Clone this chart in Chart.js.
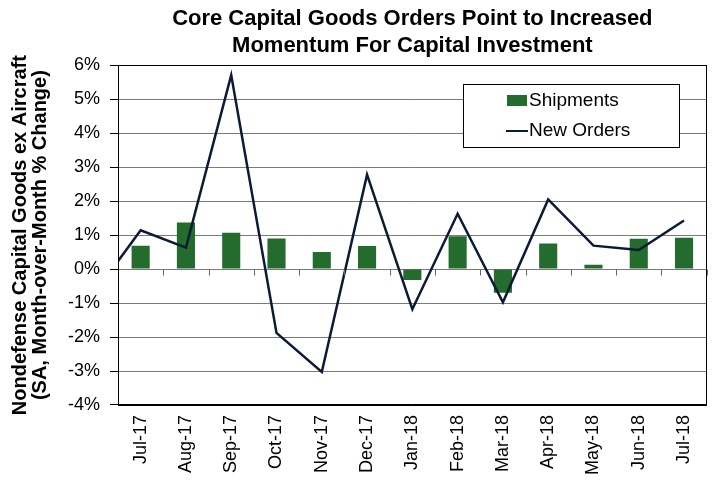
<!DOCTYPE html>
<html>
<head>
<meta charset="utf-8">
<title>Core Capital Goods Orders</title>
<script src="https://cdn.jsdelivr.net/npm/chart.js@4.4.1/dist/chart.umd.min.js"></script>
<style>
  html, body { margin: 0; padding: 0; background: #fff; }
</style>
</head>
<body>
<canvas id="myChart" width="716" height="485"></canvas>
<script>
var months = ['Jul-17', 'Aug-17', 'Sep-17', 'Oct-17', 'Nov-17', 'Dec-17', 'Jan-18',
              'Feb-18', 'Mar-18', 'Apr-18', 'May-18', 'Jun-18', 'Jul-18'];
// month-over-month % change
var shipments = [0.69, 1.37, 1.07, 0.90, 0.50, 0.68, -0.32, 0.97, -0.70, 0.75, 0.13, 0.89, 0.92];
var newOrders = [1.14, 0.63, 5.71, -1.88, -3.03, 2.78, -1.18, 1.63, -0.98, 2.05, 0.69, 0.56, 1.43];
// Jun-17 is off the left edge, only the segment running into Jul-17 shows
var jun17Orders = -0.67;
var yAxisTitle = ['Nondefense Capital Goods ex Aircraft', '(SA, Month-over-Month % Change)'];
var chartTitle = ['Core Capital Goods Orders Point to Increased', 'Momentum For Capital Investment'];

var FONT = "'Liberation Sans', Arial, sans-serif";
Chart.defaults.font.family = FONT;
Chart.defaults.color = '#000';

// x is a linear month index so the Jun-17 point can sit at -1 (clipped)
var shipPoints = shipments.map(function (v, i) { return {x: i, y: v}; });
var orderPoints = [{x: -1, y: jun17Orders}];
newOrders.forEach(function (v, i) {
  orderPoints.push({x: i, y: v});
});

// zero-line tick marks, plot frame and the boxed legend
var frameAndLegend = {
  id: 'frameAndLegend',
  afterDraw: function (chart) {
    var ctx = chart.ctx;
    var a = chart.chartArea;
    var xs = chart.scales.x, ys = chart.scales.y;
    ctx.save();

    var y0 = Math.round(ys.getPixelForValue(0)) + 0.5;
    ctx.strokeStyle = '#666';
    ctx.lineWidth = 1;
    for (var i = 0; i <= months.length; i++) {
      var bx = Math.round(xs.getPixelForValue(i - 0.5)) + 0.5;
      ctx.beginPath();
      ctx.moveTo(bx, y0);
      ctx.lineTo(bx, y0 + 6);
      ctx.stroke();
    }

    ctx.strokeStyle = '#000';
    ctx.strokeRect(Math.round(a.left) + 0.5, Math.round(a.top) + 0.5,
                   Math.round(a.right - a.left) - 1, Math.round(a.bottom - a.top));

    var left = Math.round(a.right) - 244, top = Math.round(a.top) + 19;
    ctx.fillStyle = '#fff';
    ctx.fillRect(left, top, 216, 63);
    ctx.strokeRect(left + 0.5, top + 0.5, 216, 63);
    ctx.font = '19px ' + FONT;
    ctx.textBaseline = 'middle';
    chart.data.datasets.forEach(function (ds, i) {
      var y = top + 17 + i * 30;
      if (ds.type === 'line') {
        ctx.strokeStyle = ds.borderColor;
        ctx.lineWidth = 2;
        ctx.beginPath();
        ctx.moveTo(left + 43, y);
        ctx.lineTo(left + 65, y);
        ctx.stroke();
      } else {
        ctx.fillStyle = ds.backgroundColor;
        ctx.fillRect(left + 44, y - 6, 20, 11);
      }
      ctx.fillStyle = '#000';
      ctx.fillText(ds.label, left + 66, y);
    });
    ctx.restore();
  }
};

var ctx = document.getElementById('myChart');
var chart = new Chart(ctx, {
  type: 'bar',
  data: {
    datasets: [{
      label: 'Shipments',
      data: shipPoints,
      backgroundColor: '#246b2e',
      barPercentage: 0.4,
      categoryPercentage: 1,
      order: 1
    }, {
      type: 'line',
      label: 'New Orders',
      data: orderPoints,
      borderColor: '#0b1a35',
      borderWidth: 2.5,
      pointRadius: 0,
      tension: 0,
      order: 0
    }]
  },
  options: {
    responsive: false,
    animation: false,
    layout: { padding: { left: 6, right: 6, top: 0, bottom: 0 } },
    plugins: {
      legend: { display: false },
      tooltip: { enabled: false },
      title: {
        display: true,
        text: chartTitle,
        fullSize: false,
        color: '#000',
        font: { size: 22, weight: 'bold', lineHeight: 1.21 },
        padding: { top: 6, bottom: 6 }
      }
    },
    scales: {
      x: {
        type: 'linear',
        min: -0.5,
        max: 12.5,
        offset: false,
        grid: { display: false, drawTicks: false },
        border: { display: true, color: '#000' },
        // one tick per month at the bar centres
        afterBuildTicks: function (scale) {
          scale.ticks = months.map(function (m, i) { return {value: i}; });
        },
        ticks: {
          autoSkip: false,
          minRotation: 90,
          maxRotation: 90,
          padding: 10,
          font: { size: 18 },
          callback: function (v) { return months[v]; }
        }
      },
      y: {
        min: -4,
        max: 6,
        ticks: {
          stepSize: 1,
          padding: 10,
          font: { size: 18 },
          callback: function (v) { return v + '%'; }
        },
        grid: { color: '#7a7a7a', tickColor: '#000', tickLength: 8 },
        border: { color: '#000' },
        title: {
          display: true,
          text: yAxisTitle,
          font: { size: 20, weight: 'bold', lineHeight: 1.0 },
          padding: { top: 4, bottom: 8 }
        }
      }
    }
  },
  plugins: [frameAndLegend]
});
</script>
</body>
</html>
